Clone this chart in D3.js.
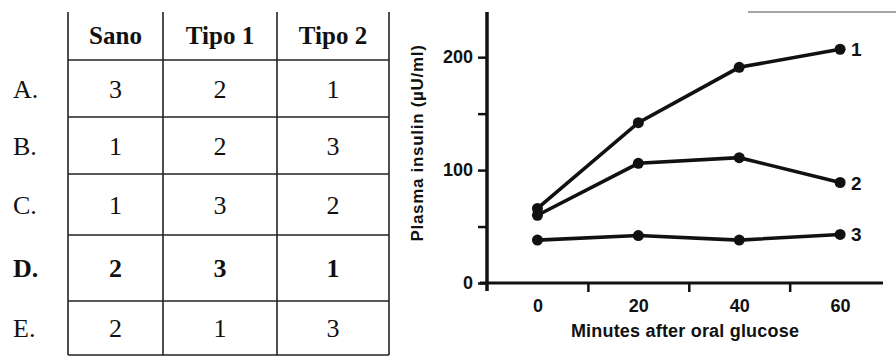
<!DOCTYPE html>
<html>
<head>
  <script src="https://d3js.org/d3.v7.min.js"></script>
  <style>
    body { margin: 0; background: #fff; }
    .tbl text { font-family: "Liberation Serif", "Times New Roman", serif; fill: #111; }
    .chart text { font-family: "Liberation Sans", Arial, sans-serif; font-weight: bold; fill: #111; }
  </style>
</head>
<body>
<script>
  // table data
  var columns = ["Sano", "Tipo 1", "Tipo 2"];
  var rowNames = ["A.", "B.", "C.", "D.", "E."];
  var cellValues = [
    [3, 2, 1],
    [1, 2, 3],
    [1, 3, 2],
    [2, 3, 1],
    [2, 1, 3]
  ];
  var boldRow = "D.";

  // chart data
  var minutes = [0, 20, 40, 60];
  var series1 = [66, 142, 191, 207];
  var series2 = [60, 106, 111, 89];
  var series3 = [38, 42, 38, 43];
  var seriesNames = ["1", "2", "3"];
  var yTickLabels = [0, 100, 200];
  var yMinorTicks = [50, 150];
  var xMinorTicks = [10, 30, 50];

  var W = 896, H = 358;
  var svg = d3.select("body").append("svg")
    .attr("width", W)
    .attr("height", H);

  // ---------- table ----------
  var tbl = svg.append("g").attr("class", "tbl");
  var colX = d3.scaleLinear().domain([0, 1, 2, 3]).range([68, 163, 277, 389]);
  var rowY = d3.scaleLinear().domain([0, 1, 2, 3, 4, 5]).range([60, 117, 174, 235, 301, 355]);
  var tableTop = 12;

  // vertical lines
  tbl.selectAll(".vline")
    .data(d3.range(columns.length + 1))
    .enter().append("line")
    .attr("x1", function(d) { return colX(d); })
    .attr("x2", function(d) { return colX(d); })
    .attr("y1", tableTop)
    .attr("y2", rowY(rowNames.length))
    .attr("stroke", "#222")
    .attr("stroke-width", 1.6);

  // horizontal lines
  tbl.selectAll(".hline")
    .data(d3.range(rowNames.length + 1))
    .enter().append("line")
    .attr("x1", colX(0))
    .attr("x2", colX(columns.length))
    .attr("y1", function(d) { return rowY(d); })
    .attr("y2", function(d) { return rowY(d); })
    .attr("stroke", "#222")
    .attr("stroke-width", 1.6);

  // headers
  tbl.selectAll(".head")
    .data(columns)
    .enter().append("text")
    .attr("x", function(d, i) { return (colX(i) + colX(i + 1)) / 2; })
    .attr("y", (tableTop + rowY(0)) / 2 + 8)
    .attr("text-anchor", "middle")
    .style("font-size", "25px")
    .style("font-weight", "bold")
    .text(function(d) { return d; });

  // row labels
  tbl.selectAll(".rlab")
    .data(rowNames)
    .enter().append("text")
    .attr("x", 13)
    .attr("y", function(d, i) { return (rowY(i) + rowY(i + 1)) / 2 + 9; })
    .style("font-size", "26px")
    .style("font-weight", function(d) { return d === boldRow ? "bold" : "normal"; })
    .text(function(d) { return d; });

  // cells
  cellValues.forEach(function(row, r) {
    tbl.selectAll(".cell" + r)
      .data(row)
      .enter().append("text")
      .attr("x", function(d, c) { return (colX(c) + colX(c + 1)) / 2; })
      .attr("y", (rowY(r) + rowY(r + 1)) / 2 + 9)
      .attr("text-anchor", "middle")
      .style("font-size", "26px")
      .style("font-weight", rowNames[r] === boldRow ? "bold" : "normal")
      .text(function(d) { return d; });
  });

  // ---------- chart ----------
  var chart = svg.append("g").attr("class", "chart");
  var x = d3.scaleLinear().domain([-10, 68.5]).range([487, 883]);
  var y = d3.scaleLinear().domain([0, 240]).range([283, 12]);

  // scan artifact line at top right
  chart.append("line")
    .attr("x1", 748).attr("x2", W)
    .attr("y1", 12).attr("y2", 12)
    .attr("stroke", "#888")
    .attr("stroke-width", 1.5);

  // y axis: labelled ticks
  var yAxis = chart.append("g")
    .attr("transform", "translate(" + x(-10) + ",0)")
    .call(d3.axisLeft(y).tickValues(yTickLabels).tickSize(9).tickPadding(5));
  yAxis.select(".domain").remove();
  yAxis.selectAll("line").attr("stroke", "#111").attr("stroke-width", 2.5);
  yAxis.selectAll("text").style("font-size", "18px").attr("fill", "#111");

  var yMinor = chart.append("g")
    .attr("transform", "translate(" + x(-10) + ",0)")
    .call(d3.axisLeft(y).tickValues(yMinorTicks).tickSize(9).tickFormat(""));
  yMinor.select(".domain").remove();
  yMinor.selectAll("line").attr("stroke", "#111").attr("stroke-width", 2.5);

  // x axis: unlabelled ticks between and labels
  var xMinor = chart.append("g")
    .attr("transform", "translate(0," + y(0) + ")")
    .call(d3.axisBottom(x).tickValues(xMinorTicks).tickSize(9).tickFormat(""));
  xMinor.select(".domain").remove();
  xMinor.selectAll("line").attr("stroke", "#111").attr("stroke-width", 2.5);

  var xLab = chart.append("g")
    .attr("transform", "translate(0," + y(0) + ")")
    .call(d3.axisBottom(x).tickValues(minutes).tickSize(0).tickPadding(16));
  xLab.select(".domain").remove();
  xLab.selectAll("text").style("font-size", "18px").attr("fill", "#111");

  // axis lines
  chart.append("line")
    .attr("x1", x(-10)).attr("x2", x(-10))
    .attr("y1", y(240)).attr("y2", y(0) + 8)
    .attr("stroke", "#111").attr("stroke-width", 3.5);
  chart.append("line")
    .attr("x1", x(-10) - 7).attr("x2", x(68.5))
    .attr("y1", y(0)).attr("y2", y(0))
    .attr("stroke", "#111").attr("stroke-width", 3);

  // axis titles
  chart.append("text")
    .attr("x", 685)
    .attr("y", 337)
    .attr("text-anchor", "middle")
    .style("font-size", "18px")
    .style("letter-spacing", "0.2px")
    .text("Minutes after oral glucose");

  chart.append("text")
    .attr("transform", "translate(423,143) rotate(-90)")
    .attr("text-anchor", "middle")
    .style("font-size", "17px")
    .style("letter-spacing", "0.7px")
    .text("Plasma insulin (\u00b5U/ml)");

  // series
  var allSeries = [series1, series2, series3];
  var line = d3.line()
    .x(function(d, i) { return x(minutes[i]); })
    .y(function(d) { return y(d); });

  allSeries.forEach(function(s, k) {
    chart.append("path")
      .datum(s)
      .attr("d", line)
      .attr("fill", "none")
      .attr("stroke", "#111")
      .attr("stroke-width", 3.6);

    chart.selectAll(".dot" + k)
      .data(s)
      .enter().append("circle")
      .attr("cx", function(d, i) { return x(minutes[i]); })
      .attr("cy", function(d) { return y(d); })
      .attr("r", 5.5)
      .attr("fill", "#111");

    chart.append("text")
      .attr("x", x(minutes[minutes.length - 1]) + 11)
      .attr("y", y(s[s.length - 1]) + 7)
      .style("font-size", "19px")
      .text(seriesNames[k]);
  });
</script>
</body>
</html>
